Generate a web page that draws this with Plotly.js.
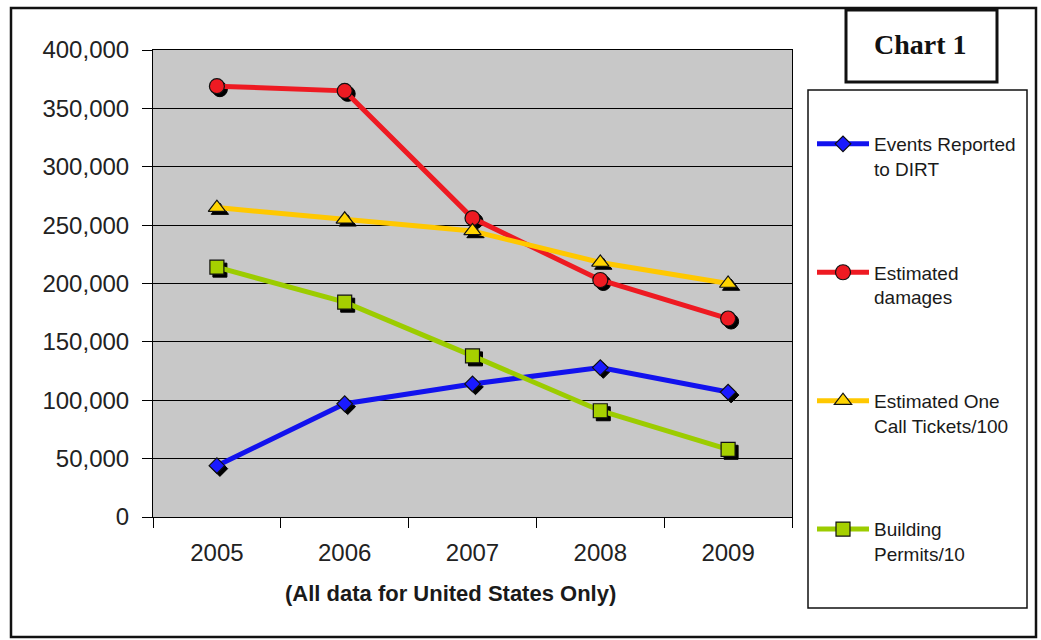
<!DOCTYPE html>
<html>
<head>
<meta charset="utf-8">
<script src="https://cdn.plot.ly/plotly-3.0.1.min.js"></script>
<style>html,body{margin:0;padding:0;background:#fff;}#chart{width:1041px;height:640px;}</style>
</head>
<body>
<div id="chart"></div>
<script>
// ---- data ----
var years = ['2005', '2006', '2007', '2008', '2009'];
var eventsDIRT = [44000, 97000, 114000, 128000, 107000];
var estDamages = [369000, 365000, 256000, 203000, 170000];
var oneCallTickets = [265000, 255000, 245000, 218000, 200000];
var buildingPermits = [214000, 184000, 138000, 91000, 58000];
var seriesNames = ['Events Reported<br>to DIRT', 'Estimated<br>damages', 'Estimated One<br>Call Tickets/100', 'Building<br>Permits/10'];
var yTickVals = [0, 50000, 100000, 150000, 200000, 250000, 300000, 350000, 400000];
var chartLabel = 'Chart 1';
var xNote = '(All data for United States Only)';

// ---- geometry helpers (pixel -> paper) ----
var W = 1041, H = 640;
var L = 153, R = 246, T = 50, B = 120;
var PW = W - L - R, PH = H - T - B;
var SH = 3; // shadow offset px
function px(x) { return (x - L) / PW; }
function py(y) { return (H - B - y) / PH; }

var FONT = 'Liberation Sans, Arial, sans-serif';
var colors = ['#1212ee', '#ee1a22', '#ffc800', '#9ccc00'];
var fills = ['#1a1aff', '#ee1a22', '#ffd400', '#a6d000'];
var symbols = ['diamond', 'circle', 'triangle-up', 'square'];
var sizes = [12, 15, 15, 14];
var allSeries = [eventsDIRT, estDamages, oneCallTickets, buildingPermits];

var traces = [];
// shadows (drawn first, on invisible shifted axes)
allSeries.forEach(function (s, i) {
  traces.push({
    x: years, y: s, xaxis: 'x', yaxis: 'y', type: 'scatter', mode: 'markers',
    showlegend: false, hoverinfo: 'skip',
    marker: { symbol: symbols[i], size: sizes[i], color: '#000', line: { color: '#000', width: 1 } }
  });
});
// real series
allSeries.forEach(function (s, i) {
  traces.push({
    x: years, y: s, xaxis: 'x2', yaxis: 'y2', type: 'scatter', mode: 'lines+markers',
    name: seriesNames[i], legendgroup: 'g' + i,
    line: { color: colors[i], width: 5 },
    marker: { symbol: symbols[i], size: sizes[i], color: fills[i], line: { color: '#111', width: 1.2 } }
  });
});

var layout = {
  width: W, height: H,
  margin: { l: L, r: R, t: T, b: B },
  paper_bgcolor: '#ffffff',
  plot_bgcolor: 'rgba(0,0,0,0)',
  font: { family: FONT, color: '#1a1a1a' },
  showlegend: true,
  xaxis: { type: 'category', range: [-0.5, 4.5], domain: [SH / PW, 1], anchor: 'y', visible: false, fixedrange: true },
  yaxis: { range: [0, 400000], domain: [0, 1 - SH / PH], anchor: 'x', visible: false, fixedrange: true },
  xaxis2: {
    type: 'category', range: [-0.5, 4.5], domain: [0, 1 - SH / PW], anchor: 'y2',
    showline: true, linecolor: '#000', linewidth: 1, mirror: true,
    ticks: 'outside', tickson: 'boundaries', ticklen: 10, tickcolor: '#000', tickwidth: 1,
    ticklabelstandoff: 14,
    showgrid: false, tickfont: { size: 24, family: FONT, color: '#222' }, fixedrange: true
  },
  yaxis2: {
    range: [0, 400000], domain: [SH / PH, 1], anchor: 'x2',
    tickvals: yTickVals, tickformat: ',d',
    showline: true, linecolor: '#000', linewidth: 1, mirror: true,
    ticks: 'outside', ticklen: 10, tickcolor: '#000', tickwidth: 1,
    ticklabelstandoff: 8,
    showgrid: true, gridcolor: '#000', gridwidth: 1, zeroline: false,
    tickfont: { size: 24, family: FONT, color: '#222' }, fixedrange: true
  },
  legend: {
    x: px(812), y: py(125), xanchor: 'left', yanchor: 'top',
    xref: 'paper', yref: 'paper',
    bgcolor: 'rgba(0,0,0,0)', borderwidth: 0,
    font: { size: 19, family: FONT, color: '#1a1a1a' },
    valign: 'top', traceorder: 'grouped', tracegroupgap: 76, itemwidth: 52
  },
  shapes: [
    // plot background
    { type: 'rect', xref: 'paper', yref: 'paper', layer: 'below',
      x0: px(153), x1: px(792), y0: py(517), y1: py(50),
      fillcolor: '#c8c8c8', line: { width: 0 } },
    // outer border
    { type: 'rect', xref: 'paper', yref: 'paper',
      x0: px(11), x1: px(1036), y0: py(637), y1: py(8),
      line: { color: '#111', width: 2.5 } },
    // legend box
    { type: 'rect', xref: 'paper', yref: 'paper',
      x0: px(808), x1: px(1027), y0: py(608), y1: py(90),
      line: { color: '#111', width: 1.5 } },
    // chart label box
    { type: 'rect', xref: 'paper', yref: 'paper',
      x0: px(846), x1: px(997), y0: py(82), y1: py(10),
      line: { color: '#111', width: 3 } }
  ],
  annotations: [
    { text: '<b>' + chartLabel + '</b>', xref: 'paper', yref: 'paper',
      x: px(921), y: py(44), xanchor: 'center', yanchor: 'middle', showarrow: false,
      font: { family: 'Liberation Serif, Times New Roman, serif', size: 28, color: '#111' } },
    { text: '<b>' + xNote + '</b>', xref: 'paper', yref: 'paper',
      x: px(450), y: py(593), xanchor: 'center', yanchor: 'middle', showarrow: false,
      font: { family: FONT, size: 22, color: '#1a1a1a' } }
  ]
};

Plotly.newPlot('chart', traces, layout, { displayModeBar: false, staticPlot: true });
</script>
</body>
</html>
